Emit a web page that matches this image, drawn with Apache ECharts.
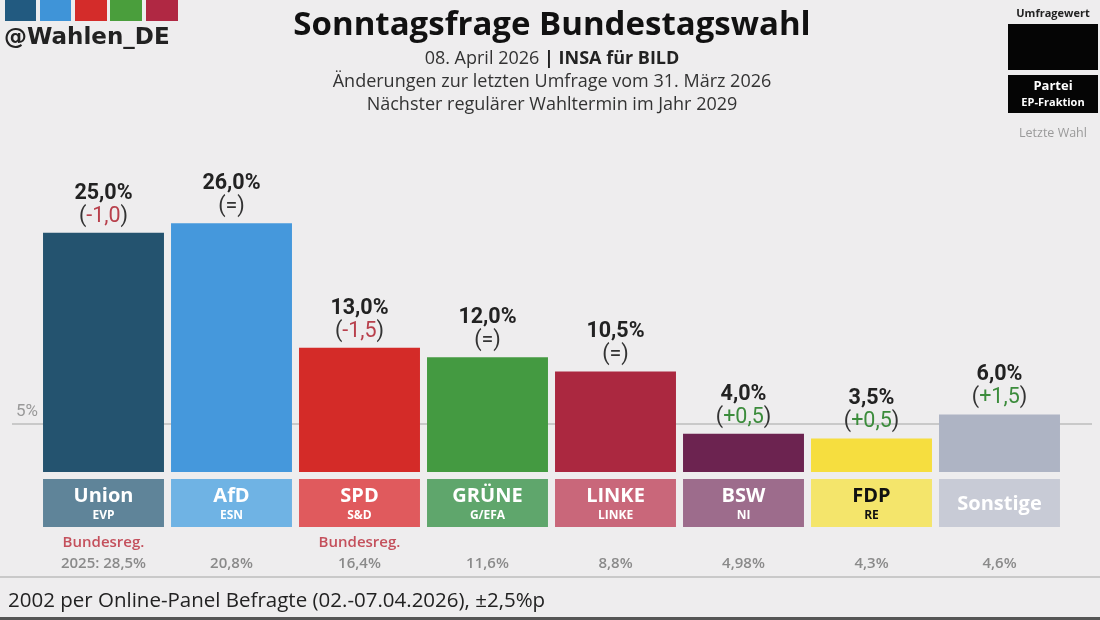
<!DOCTYPE html>
<html>
<head>
<meta charset="utf-8">
<script src="https://cdn.jsdelivr.net/npm/echarts@6/dist/echarts.min.js"></script>
<style>
  body { margin: 0; background: #eeedee; }
  #main { width: 1100px; height: 620px; }
</style>
</head>
<body>
<div id="main"></div>
<script>
// Parteien und Werte
var parteien = ['Union', 'AfD', 'SPD', 'GRÜNE', 'LINKE', 'BSW', 'FDP', 'Sonstige'];
var fraktionen = ['EVP', 'ESN', 'S&D', 'G/EFA', 'LINKE', 'NI', 'RE', ''];
var umfrage = [25.0, 26.0, 13.0, 12.0, 10.5, 4.0, 3.5, 6.0];
var aenderung = [-1.0, 0, -1.5, 0, 0, 0.5, 0.5, 1.5];
var letzteWahl = [28.5, 20.8, 16.4, 11.6, 8.8, 4.98, 4.3, 4.6];
var bundesreg = [true, false, true, false, false, false, false, false];

var barFarben = ['#24536f', '#4598dc', '#d42b28', '#449a41', '#ab2840', '#6c2350', '#f6de3f', '#aeb4c4'];
var boxFarben = ['#5f8499', '#6fb3e4', '#e05a5d', '#5fa66c', '#c9677a', '#9d6c8c', '#f4e56b', '#c8cbd6'];

function komma(v, d) {
    return (d != null ? v.toFixed(d) : String(v)).replace('.', ',');
}

var myChart = echarts.init(document.getElementById('main'));

var option = {
    backgroundColor: '#eeedee',
    textStyle: { fontFamily: 'Roboto' },
    animation: false,
    grid: { left: 39.5, right: 36.5, top: 185, bottom: 148 },
    xAxis: {
        type: 'category',
        data: parteien,
        axisLine: { show: false },
        axisTick: { show: false },
        axisLabel: {
            interval: 0,
            margin: 60,
            formatter: function (value, idx) {
                var i = parteien.indexOf(value);
                var z1 = bundesreg[i] ? '{r|Bundesreg.}' : '{r| }';
                var z2 = (i === 0 ? '2025: ' : '') + komma(letzteWahl[i]) + '%';
                return z1 + '\n{g|' + z2 + '}';
            },
            rich: {
                r: { color: '#c4505c', fontSize: 15, fontWeight: 600, fontFamily: 'Open Sans', lineHeight: 21 },
                g: { color: '#8a8a8a', fontSize: 15, fontWeight: 600, fontFamily: 'Open Sans', lineHeight: 21 }
            }
        }
    },
    yAxis: {
        type: 'value',
        min: 0,
        max: 30,
        show: false,
        splitLine: { show: false }
    },
    series: [
        {
            type: 'bar',
            barWidth: '94.5%',
            data: umfrage.map(function (v, i) {
                return { value: v, itemStyle: { color: barFarben[i] } };
            }),
            label: {
                show: true,
                position: 'top',
                distance: 5,
                formatter: function (p) {
                    var d = aenderung[p.dataIndex];
                    var dtxt;
                    if (d === 0) dtxt = '{p|(=)}';
                    else if (d < 0) dtxt = '{p|(}{neg|' + komma(d, 1) + '}{p|)}';
                    else dtxt = '{p|(}{pos|+' + komma(d, 1) + '}{p|)}';
                    return '{v|' + komma(p.value, 1) + '%}\n' + dtxt;
                },
                rich: {
                    v: { fontSize: 21.5, fontWeight: 'bold', color: '#222', lineHeight: 23 },
                    p: { fontSize: 21.5, color: '#333', lineHeight: 23 },
                    neg: { fontSize: 21.5, color: '#b8404c', lineHeight: 23 },
                    pos: { fontSize: 21.5, color: '#3c8c3c', lineHeight: 23 }
                }
            },
            markLine: {
                silent: true,
                z: 1,
                symbol: 'none',
                lineStyle: { color: '#bdbdbd', width: 1.5, type: 'solid' },
                label: {
                    show: true,
                    position: 'insideStartTop',
                    formatter: '5%',
                    color: '#999',
                    fontSize: 17,
                    distance: 4
                },
                data: [[{ x: 12, yAxis: 5 }, { x: 1092, yAxis: 5 }]]
            }
        },
        {
            type: 'custom',
            clip: false,
            silent: true,
            data: parteien.map(function (n, i) { return [i, 0]; }),
            encode: { x: 0, y: 1 },
            renderItem: function (params, api) {
                var i = api.value(0);
                var p = api.coord([i, 0]);
                var w = api.size([1, 0])[0] * 0.945;
                var x = p[0] - w / 2, y = p[1] + 7, h = 48;
                var farbe = i === 6 ? '#111' : '#fff';
                var kinder = [{
                    type: 'rect',
                    shape: { x: x, y: y, width: w, height: h },
                    style: { fill: boxFarben[i] }
                }];
                if (fraktionen[i]) {
                    kinder.push({
                        type: 'text',
                        style: { text: parteien[i], x: p[0], y: y + 17, align: 'center', verticalAlign: 'middle',
                            fill: farbe, fontSize: 20, fontWeight: 'bold', fontFamily: 'Open Sans' }
                    });
                    kinder.push({
                        type: 'text',
                        style: { text: fraktionen[i], x: p[0], y: y + 37, align: 'center', verticalAlign: 'middle',
                            fill: farbe, fontSize: 12, fontWeight: 'bold', fontFamily: 'Open Sans' }
                    });
                } else {
                    kinder.push({
                        type: 'text',
                        style: { text: parteien[i], x: p[0], y: y + 25, align: 'center', verticalAlign: 'middle',
                            fill: farbe, fontSize: 20, fontWeight: 'bold', fontFamily: 'Open Sans' }
                    });
                }
                return { type: 'group', children: kinder };
            }
        }
    ],
    graphic: [
        // Logo-Kacheln
        { type: 'rect', shape: { x: 5, y: 0, width: 31, height: 21 }, style: { fill: '#225a80' } },
        { type: 'rect', shape: { x: 40, y: 0, width: 31, height: 21 }, style: { fill: '#3f94d8' } },
        { type: 'rect', shape: { x: 75, y: 0, width: 32, height: 21 }, style: { fill: '#d42c2a' } },
        { type: 'rect', shape: { x: 110, y: 0, width: 32, height: 21 }, style: { fill: '#4a9e3c' } },
        { type: 'rect', shape: { x: 146, y: 0, width: 32, height: 21 }, style: { fill: '#b02843' } },
        { type: 'text', style: { text: '@Wahlen_DE', x: 4, y: 38, verticalAlign: 'middle', fill: '#222',
            fontSize: 23, fontWeight: 'bold', fontFamily: 'DejaVu Sans' } },
        // Titel
        { type: 'text', style: { text: 'Sonntagsfrage Bundestagswahl', x: 552, y: 26, align: 'center', verticalAlign: 'middle',
            fill: '#111', fontSize: 33, fontWeight: 'bold', fontFamily: 'Open Sans' } },
        { type: 'text', style: { text: '{n|08. April 2026 }{b|| INSA für BILD}', x: 552, y: 59, align: 'center', verticalAlign: 'middle',
            rich: {
                n: { fill: '#333', fontSize: 18, fontFamily: 'Open Sans' },
                b: { fill: '#222', fontSize: 18, fontWeight: 'bold', fontFamily: 'Open Sans' }
            } } },
        { type: 'text', style: { text: 'Änderungen zur letzten Umfrage vom 31. März 2026', x: 552, y: 82, align: 'center', verticalAlign: 'middle',
            fill: '#333', fontSize: 18, fontFamily: 'Open Sans' } },
        { type: 'text', style: { text: 'Nächster regulärer Wahltermin im Jahr 2029', x: 552, y: 105, align: 'center', verticalAlign: 'middle',
            fill: '#333', fontSize: 18, fontFamily: 'Open Sans' } },
        // Legende rechts
        { type: 'text', style: { text: 'Umfragewert', x: 1053, y: 14, align: 'center', verticalAlign: 'middle',
            fill: '#222', fontSize: 11, fontWeight: 'bold', fontFamily: 'Open Sans' } },
        { type: 'rect', shape: { x: 1008, y: 24, width: 90, height: 46 }, style: { fill: '#050505' } },
        { type: 'rect', shape: { x: 1008, y: 75, width: 90, height: 38 }, style: { fill: '#050505' } },
        { type: 'text', style: { text: 'Partei', x: 1053, y: 86, align: 'center', verticalAlign: 'middle',
            fill: '#fff', fontSize: 13, fontWeight: 'bold', fontFamily: 'Open Sans' } },
        { type: 'text', style: { text: 'EP-Fraktion', x: 1053, y: 103, align: 'center', verticalAlign: 'middle',
            fill: '#fff', fontSize: 11, fontWeight: 'bold', fontFamily: 'Open Sans' } },
        { type: 'text', style: { text: 'Letzte Wahl', x: 1053, y: 133, align: 'center', verticalAlign: 'middle',
            fill: '#9a9a9a', fontSize: 12.5, fontFamily: 'Open Sans' } },
        // Fußzeile
        { type: 'line', shape: { x1: 0, y1: 577, x2: 1100, y2: 577 }, style: { stroke: '#c9c9c9', lineWidth: 2 } },
        { type: 'text', style: { text: '2002 per Online-Panel Befragte (02.-07.04.2026), ±2,5%p', x: 8, y: 601, verticalAlign: 'middle',
            fill: '#222', fontSize: 20.5, fontFamily: 'Open Sans' } },
        { type: 'rect', shape: { x: 0, y: 617, width: 1100, height: 3 }, style: { fill: '#555' } }
    ]
};

myChart.setOption(option);
</script>
</body>
</html>
